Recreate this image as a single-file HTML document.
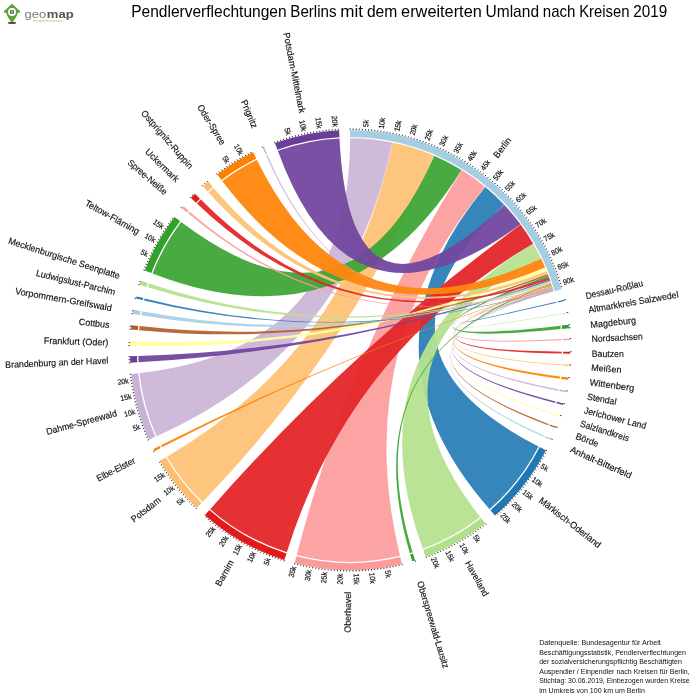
<!DOCTYPE html>
<html lang="de"><head><meta charset="utf-8"><title>Pendlerverflechtungen Berlins</title>
<style>
html,body{margin:0;padding:0;background:#fff;}
body{width:700px;height:700px;overflow:hidden;position:relative;font-family:"Liberation Sans",sans-serif;}
svg{position:absolute;left:0;top:0;display:block}
svg text{font-family:"Liberation Sans",sans-serif;fill:#111}
.tk{stroke:#222;stroke-width:0.95;fill:none}
.tl text{font-size:7.6px;dominant-baseline:central;stroke:#111;stroke-width:0.18px}
.gl text{font-size:9.2px;dominant-baseline:central;stroke:#111;stroke-width:0.15px}
.title{font-size:15.7px;fill:#000}
.foot text{font-size:7.0px;fill:#111}
</style></head><body>
<svg width="700" height="700" viewBox="0 0 700 700">
<rect width="700" height="700" fill="#fff"/>
<g class="logo">
<ellipse cx="12" cy="22.9" rx="4.1" ry="1.1" fill="#4b4f48"/>
<path d="M12,3.7 L20.4,11.5 L19.5,13 L18.1,12.2 Q17.3,16.2 12,22.7 Q6.7,16.2 5.9,12.2 L4.5,13 L3.6,11.5 Z" fill="#5ba22f"/>
<circle cx="12.05" cy="12" r="4" fill="#fff"/>
<rect x="10.1" y="10.1" width="3.8" height="3.7" fill="#4a4a58"/>
<path d="M12,10.1V13.8" stroke="#fff" stroke-width="0.6" fill="none"/><path d="M10.1,11.7H13.9" stroke="#fff" stroke-width="0.4" fill="none"/>
<text x="24.5" y="18.1" style="font-size:11.3px;fill:#777" textLength="21.6" lengthAdjust="spacingAndGlyphs">geo</text>
<text x="46.8" y="18.1" style="font-size:11.3px;font-weight:bold;fill:#555" textLength="26.9" lengthAdjust="spacingAndGlyphs">map</text>
<text x="32.9" y="21.6" style="font-size:2.7px;fill:#9ccf6a" textLength="30" lengthAdjust="spacingAndGlyphs">immobilienmarktdaten</text>
</g>
<text class="title" y="17.4"><tspan x="131.2" textLength="155.38" lengthAdjust="spacingAndGlyphs">Pendlerverflechtungen</tspan> <tspan x="290.35" textLength="46.21" lengthAdjust="spacingAndGlyphs">Berlins</tspan> <tspan x="340.34" textLength="22.78" lengthAdjust="spacingAndGlyphs">mit</tspan> <tspan x="366.9" textLength="30.44" lengthAdjust="spacingAndGlyphs">dem</tspan> <tspan x="401.12" textLength="80.66" lengthAdjust="spacingAndGlyphs">erweiterten</tspan> <tspan x="485.56" textLength="53.47" lengthAdjust="spacingAndGlyphs">Umland</tspan> <tspan x="542.81" textLength="32.63" lengthAdjust="spacingAndGlyphs">nach</tspan> <tspan x="579.21" textLength="50.29" lengthAdjust="spacingAndGlyphs">Kreisen</tspan> <tspan x="633.28" textLength="33.88" lengthAdjust="spacingAndGlyphs">2019</tspan></text>
<g transform="translate(350,350)">
<g class="rib" fill-opacity="0.95">
<path d="M203.33,-59.3A211.8,211.8 0 0 1 203.42,-58.97Q0,0 206.23,-48.24A211.8,211.8 0 0 1 206.47,-47.21Q0,0 203.33,-59.3Z" fill="#2b7fb8"/>
<path d="M203.5,-58.71A211.8,211.8 0 0 1 203.56,-58.49Q0,0 208.71,-36.06A211.8,211.8 0 0 1 208.81,-35.44Q0,0 203.5,-58.71Z" fill="#b6e190"/>
<path d="M198.31,-74.39A211.8,211.8 0 0 1 199.05,-72.39Q0,0 210.41,-24.26A211.8,211.8 0 0 1 210.76,-20.93Q0,0 198.31,-74.39Z" fill="#3ea537"/>
<path d="M202.78,-61.17A211.8,211.8 0 0 1 202.91,-60.73Q0,0 211.52,-10.97A211.8,211.8 0 0 1 211.58,-9.7Q0,0 202.78,-61.17Z" fill="#fb9f9e"/>
<path d="M202.31,-62.7A211.8,211.8 0 0 1 202.48,-62.15Q0,0 211.79,1.63A211.8,211.8 0 0 1 211.77,3.54Q0,0 202.31,-62.7Z" fill="#e42628"/>
<path d="M202.12,-63.31A211.8,211.8 0 0 1 202.31,-62.7Q0,0 211.32,14.29A211.8,211.8 0 0 1 211.24,15.34Q0,0 202.12,-63.31Z" fill="#fdc277"/>
<path d="M201.1,-66.46A211.8,211.8 0 0 1 201.39,-65.59Q0,0 210.14,26.47A211.8,211.8 0 0 1 209.84,28.74Q0,0 201.1,-66.46Z" fill="#ff860d"/>
<path d="M202.48,-62.15A211.8,211.8 0 0 1 202.64,-61.6Q0,0 208.13,39.25A211.8,211.8 0 0 1 207.85,40.71Q0,0 202.48,-62.15Z" fill="#cdb6d8"/>
<path d="M202.91,-60.73A211.8,211.8 0 0 1 203.04,-60.29Q0,0 205.47,51.41A211.8,211.8 0 0 1 205.08,52.94Q0,0 202.91,-60.73Z" fill="#72479f"/>
<path d="M203.04,-60.29A211.8,211.8 0 0 1 203.14,-59.96Q0,0 202.24,62.93A211.8,211.8 0 0 1 201.82,64.24Q0,0 203.04,-60.29Z" fill="#ffff9e"/>
<path d="M203.23,-59.63A211.8,211.8 0 0 1 203.33,-59.3Q0,0 198.47,73.96A211.8,211.8 0 0 1 198.02,75.15Q0,0 203.23,-59.63Z" fill="#b56233"/>
<path d="M203.14,-59.96A211.8,211.8 0 0 1 203.23,-59.63Q0,0 193.78,85.49A211.8,211.8 0 0 1 193.26,86.65Q0,0 203.14,-59.96Z" fill="#abd1e4"/>
<path d="M135.29,-162.96A211.8,211.8 0 0 1 154.15,-145.25Q0,0 188.54,96.51A211.8,211.8 0 0 1 139.55,159.33Q0,0 135.29,-162.96Z" fill="#2b7fb8"/>
<path d="M183.37,-105.99A211.8,211.8 0 0 1 190.9,-91.74Q0,0 130.19,167.06A211.8,211.8 0 0 1 72.86,198.87Q0,0 183.37,-105.99Z" fill="#b6e190"/>
<path d="M201.39,-65.59A211.8,211.8 0 0 1 201.67,-64.72Q0,0 62.58,202.34A211.8,211.8 0 0 1 59.84,203.17Q0,0 201.39,-65.59Z" fill="#3ea537"/>
<path d="M111.73,-179.93A211.8,211.8 0 0 1 135.06,-163.15Q0,0 49.95,205.83A211.8,211.8 0 0 1 -53.28,204.99Q0,0 111.73,-179.93Z" fill="#fb9f9e"/>
<path d="M170.63,-125.48A211.8,211.8 0 0 1 183.22,-106.25Q0,0 -63.16,202.16A211.8,211.8 0 0 1 -139.77,159.13Q0,0 170.63,-125.48Z" fill="#e42628"/>
<path d="M42.56,-207.48A211.8,211.8 0 0 1 83.94,-194.46Q0,0 -147.53,151.96A211.8,211.8 0 0 1 -182.98,106.67Q0,0 42.56,-207.48Z" fill="#fdc277"/>
<path d="M201.91,-63.96A211.8,211.8 0 0 1 202.12,-63.31Q0,0 -188.11,97.33A211.8,211.8 0 0 1 -189.15,95.3Q0,0 201.91,-63.96Z" fill="#ff860d"/>
<path d="M0.15,-211.8A211.8,211.8 0 0 1 42.26,-207.54Q0,0 -193.44,86.25A211.8,211.8 0 0 1 -210.55,23Q0,0 0.15,-211.8Z" fill="#cdb6d8"/>
<path d="M199.74,-70.45A211.8,211.8 0 0 1 200.12,-69.37Q0,0 -211.44,12.3A211.8,211.8 0 0 1 -211.71,6.05Q0,0 199.74,-70.45Z" fill="#72479f"/>
<path d="M195.18,-82.24A211.8,211.8 0 0 1 196.63,-78.72Q0,0 -211.76,-4.13A211.8,211.8 0 0 1 -211.62,-8.75Q0,0 195.18,-82.24Z" fill="#ffff9e"/>
<path d="M197.7,-75.98A211.8,211.8 0 0 1 198.31,-74.39Q0,0 -210.87,-19.84A211.8,211.8 0 0 1 -210.45,-23.91Q0,0 197.7,-75.98Z" fill="#b56233"/>
<path d="M200.12,-69.37A211.8,211.8 0 0 1 200.62,-67.89Q0,0 -208.94,-34.69A211.8,211.8 0 0 1 -208.22,-38.77Q0,0 200.12,-69.37Z" fill="#abd1e4"/>
<path d="M202.64,-61.6A211.8,211.8 0 0 1 202.78,-61.17Q0,0 -205.91,-49.61A211.8,211.8 0 0 1 -205.42,-51.6Q0,0 202.64,-61.6Z" fill="#2b7fb8"/>
<path d="M200.62,-67.89A211.8,211.8 0 0 1 201.1,-66.46Q0,0 -202.31,-62.67A211.8,211.8 0 0 1 -201.05,-66.61Q0,0 200.62,-67.89Z" fill="#b6e190"/>
<path d="M84.21,-194.34A211.8,211.8 0 0 1 111.48,-180.09Q0,0 -197.47,-76.59A211.8,211.8 0 0 1 -168.81,-127.91Q0,0 84.21,-194.34Z" fill="#3ea537"/>
<path d="M201.67,-64.72A211.8,211.8 0 0 1 201.91,-63.96Q0,0 -161.81,-136.66A211.8,211.8 0 0 1 -160.38,-138.33Q0,0 201.67,-64.72Z" fill="#fb9f9e"/>
<path d="M199.05,-72.39A211.8,211.8 0 0 1 199.74,-70.45Q0,0 -153.08,-146.38A211.8,211.8 0 0 1 -149.13,-150.39Q0,0 199.05,-72.39Z" fill="#e42628"/>
<path d="M196.63,-78.72A211.8,211.8 0 0 1 197.7,-75.98Q0,0 -141.48,-157.62A211.8,211.8 0 0 1 -136.35,-162.08Q0,0 196.63,-78.72Z" fill="#fdc277"/>
<path d="M191.03,-91.48A211.8,211.8 0 0 1 195.12,-82.38Q0,0 -127.79,-168.91A211.8,211.8 0 0 1 -93.15,-190.22Q0,0 191.03,-91.48Z" fill="#ff860d"/>
<path d="M203.42,-58.97A211.8,211.8 0 0 1 203.5,-58.71Q0,0 -83.84,-194.5A211.8,211.8 0 0 1 -82.55,-195.05Q0,0 203.42,-58.97Z" fill="#cdb6d8"/>
<path d="M154.35,-145.04A211.8,211.8 0 0 1 170.45,-125.72Q0,0 -72.17,-199.13A211.8,211.8 0 0 1 -10.5,-211.54Q0,0 154.35,-145.04Z" fill="#72479f"/>
</g>
<g class="arcs">
<path d="M0,-220.1A220.1,220.1 0 0 1 211.54,-60.78L204.81,-58.85A213.1,213.1 0 0 0 0,-213.1Z" fill="#a6cee3"/>
<path d="M214.31,-50.13A220.1,220.1 0 0 1 214.56,-49.06L207.74,-47.5A213.1,213.1 0 0 0 207.5,-48.54Z" fill="#1f78b4"/>
<path d="M216.89,-37.47A220.1,220.1 0 0 1 217,-36.82L210.1,-35.65A213.1,213.1 0 0 0 209.99,-36.28Z" fill="#b2df8a"/>
<path d="M218.65,-25.21A220.1,220.1 0 0 1 219.02,-21.75L212.06,-21.06A213.1,213.1 0 0 0 211.7,-24.41Z" fill="#33a02c"/>
<path d="M219.8,-11.4A220.1,220.1 0 0 1 219.87,-10.08L212.88,-9.76A213.1,213.1 0 0 0 212.81,-11.03Z" fill="#fb9a99"/>
<path d="M220.09,1.7A220.1,220.1 0 0 1 220.07,3.68L213.07,3.56A213.1,213.1 0 0 0 213.09,1.64Z" fill="#e31a1c"/>
<path d="M219.6,14.85A220.1,220.1 0 0 1 219.52,15.94L212.54,15.44A213.1,213.1 0 0 0 212.61,14.37Z" fill="#fdbf6f"/>
<path d="M218.37,27.51A220.1,220.1 0 0 1 218.06,29.86L211.13,28.91A213.1,213.1 0 0 0 211.43,26.63Z" fill="#ff7f00"/>
<path d="M216.29,40.79A220.1,220.1 0 0 1 216,42.3L209.13,40.96A213.1,213.1 0 0 0 209.41,39.49Z" fill="#cab2d6"/>
<path d="M213.52,53.42A220.1,220.1 0 0 1 213.11,55.02L206.33,53.27A213.1,213.1 0 0 0 206.73,51.72Z" fill="#6a3d9a"/>
<path d="M210.16,65.39A220.1,220.1 0 0 1 209.73,66.76L203.06,64.63A213.1,213.1 0 0 0 203.48,63.31Z" fill="#ffff99"/>
<path d="M206.25,76.86A220.1,220.1 0 0 1 205.78,78.09L199.24,75.61A213.1,213.1 0 0 0 199.69,74.41Z" fill="#b15928"/>
<path d="M201.37,88.84A220.1,220.1 0 0 1 200.84,90.05L194.45,87.19A213.1,213.1 0 0 0 194.97,86.02Z" fill="#a6cee3"/>
<path d="M195.92,100.29A220.1,220.1 0 0 1 145.01,165.58L140.4,160.31A213.1,213.1 0 0 0 189.69,97.1Z" fill="#1f78b4"/>
<path d="M135.29,173.61A220.1,220.1 0 0 1 75.72,206.67L73.31,200.09A213.1,213.1 0 0 0 130.99,168.09Z" fill="#b2df8a"/>
<path d="M65.03,210.27A220.1,220.1 0 0 1 62.19,211.13L60.21,204.42A213.1,213.1 0 0 0 62.96,203.59Z" fill="#33a02c"/>
<path d="M51.91,213.89A220.1,220.1 0 0 1 -55.37,213.02L-53.61,206.25A213.1,213.1 0 0 0 50.26,207.09Z" fill="#fb9a99"/>
<path d="M-65.63,210.09A220.1,220.1 0 0 1 -145.25,165.37L-140.63,160.11A213.1,213.1 0 0 0 -63.55,203.4Z" fill="#e31a1c"/>
<path d="M-153.32,157.92A220.1,220.1 0 0 1 -190.15,110.85L-184.1,107.32A213.1,213.1 0 0 0 -148.44,152.9Z" fill="#fdbf6f"/>
<path d="M-195.48,101.15A220.1,220.1 0 0 1 -196.56,99.03L-190.31,95.88A213.1,213.1 0 0 0 -189.27,97.93Z" fill="#ff7f00"/>
<path d="M-201.03,89.63A220.1,220.1 0 0 1 -218.8,23.9L-211.84,23.14A213.1,213.1 0 0 0 -194.63,86.77Z" fill="#cab2d6"/>
<path d="M-219.73,12.78A220.1,220.1 0 0 1 -220.01,6.29L-213.01,6.09A213.1,213.1 0 0 0 -212.74,12.37Z" fill="#6a3d9a"/>
<path d="M-220.06,-4.29A220.1,220.1 0 0 1 -219.91,-9.09L-212.92,-8.8A213.1,213.1 0 0 0 -213.06,-4.16Z" fill="#ffff99"/>
<path d="M-219.13,-20.62A220.1,220.1 0 0 1 -218.69,-24.84L-211.74,-24.05A213.1,213.1 0 0 0 -212.16,-19.96Z" fill="#b15928"/>
<path d="M-217.13,-36.05A220.1,220.1 0 0 1 -216.38,-40.29L-209.5,-39.01A213.1,213.1 0 0 0 -210.22,-34.9Z" fill="#a6cee3"/>
<path d="M-213.98,-51.55A220.1,220.1 0 0 1 -213.47,-53.62L-206.68,-51.92A213.1,213.1 0 0 0 -207.17,-49.91Z" fill="#1f78b4"/>
<path d="M-210.24,-65.13A220.1,220.1 0 0 1 -208.93,-69.22L-202.29,-67.02A213.1,213.1 0 0 0 -203.56,-63.06Z" fill="#b2df8a"/>
<path d="M-205.2,-79.59A220.1,220.1 0 0 1 -175.43,-132.92L-169.85,-128.7A213.1,213.1 0 0 0 -198.68,-77.06Z" fill="#33a02c"/>
<path d="M-168.16,-142.01A220.1,220.1 0 0 1 -166.67,-143.75L-161.37,-139.18A213.1,213.1 0 0 0 -162.81,-137.5Z" fill="#fb9a99"/>
<path d="M-159.08,-152.11A220.1,220.1 0 0 1 -154.98,-156.29L-150.05,-151.32A213.1,213.1 0 0 0 -154.02,-147.27Z" fill="#e31a1c"/>
<path d="M-147.02,-163.79A220.1,220.1 0 0 1 -141.69,-168.43L-137.18,-163.07A213.1,213.1 0 0 0 -142.35,-158.59Z" fill="#fdbf6f"/>
<path d="M-132.8,-175.53A220.1,220.1 0 0 1 -96.8,-197.67L-93.72,-191.38A213.1,213.1 0 0 0 -128.57,-169.94Z" fill="#ff7f00"/>
<path d="M-87.12,-202.12A220.1,220.1 0 0 1 -85.79,-202.69L-83.06,-196.25A213.1,213.1 0 0 0 -84.35,-195.69Z" fill="#cab2d6"/>
<path d="M-74.99,-206.93A220.1,220.1 0 0 1 -10.91,-219.83L-10.56,-212.84A213.1,213.1 0 0 0 -72.61,-200.35Z" fill="#6a3d9a"/>
</g>
<path class="tk" d="M0,-220.1L0,-221.5M3.09,-220.08L3.11,-221.48M6.18,-220.01L6.22,-221.41M9.27,-219.9L9.33,-221.3M12.36,-219.75L12.44,-221.15M15.45,-219.56L15.55,-220.95M18.53,-219.32L18.65,-220.71M21.61,-219.04L21.75,-220.43M24.69,-218.71L24.84,-220.1M27.76,-218.34L27.93,-219.73M30.82,-217.93L31.02,-219.32M33.88,-217.48L34.1,-218.86M36.93,-216.98L37.17,-218.36M39.98,-216.44L40.23,-217.82M43.02,-215.86L43.29,-217.23M46.04,-215.23L46.34,-216.6M49.06,-214.56L49.37,-215.93M52.07,-213.85L52.4,-215.21M55.07,-213.1L55.42,-214.45M58.06,-212.3L58.43,-213.65M61.04,-211.47L61.43,-212.81M64,-210.59L64.41,-211.93M66.95,-209.67L67.38,-211M69.89,-208.71L70.34,-210.04M72.82,-207.71L73.28,-209.03M75.73,-206.66L76.21,-207.98M78.63,-205.58L79.13,-206.88M81.51,-204.45L82.03,-205.75M84.37,-203.29L84.91,-204.58M87.22,-202.08L87.77,-203.37M90.05,-200.84L90.62,-202.11M92.86,-199.55L93.45,-200.82M95.66,-198.23L96.27,-199.49M98.43,-196.86L99.06,-198.12M101.19,-195.46L101.83,-196.7M103.92,-194.02L104.59,-195.25M106.64,-192.54L107.32,-193.77M109.33,-191.02L110.03,-192.24M112.01,-189.47L112.72,-190.67M114.66,-187.88L115.39,-189.07M117.29,-186.25L118.03,-187.43M119.89,-184.58L120.65,-185.75M122.47,-182.88L123.25,-184.04M125.03,-181.14L125.83,-182.29M127.56,-179.36L128.37,-180.51M130.07,-177.55L130.9,-178.68M132.55,-175.71L133.4,-176.83M135.01,-173.83L135.87,-174.94M137.44,-171.92L138.31,-173.01M139.84,-169.97L140.73,-171.05M142.21,-167.99L143.12,-169.06M144.56,-165.97L145.48,-167.03M146.88,-163.92L147.81,-164.97M149.16,-161.85L150.11,-162.87M151.42,-159.73L152.39,-160.75M153.65,-157.59L154.63,-158.59M155.85,-155.42L156.84,-156.4M158.02,-153.21L159.03,-154.19M160.16,-150.98L161.18,-151.94M162.26,-148.71L163.29,-149.66M164.34,-146.42L165.38,-147.35M166.38,-144.09L167.44,-145.01M168.38,-141.74L169.46,-142.64M170.36,-139.36L171.44,-140.25M172.3,-136.95L173.4,-137.83M174.21,-134.52L175.32,-135.38M176.08,-132.06L177.2,-132.9M177.92,-129.57L179.05,-130.4M179.72,-127.06L180.86,-127.87M181.49,-124.52L182.64,-125.31M183.22,-121.96L184.39,-122.74M184.92,-119.37L186.09,-120.13M186.57,-116.76L187.76,-117.51M188.2,-114.13L189.39,-114.86M189.78,-111.48L190.99,-112.19M191.33,-108.8L192.55,-109.49M192.84,-106.1L194.07,-106.77M194.31,-103.38L195.55,-104.04M195.74,-100.64L196.99,-101.28M197.14,-97.88L198.39,-98.5M198.49,-95.1L199.76,-95.71M199.81,-92.3L201.08,-92.89M201.09,-89.49L202.37,-90.06M202.33,-86.65L203.61,-87.2M203.52,-83.8L204.82,-84.33M204.68,-80.93L205.98,-81.45M205.8,-78.05L207.11,-78.55M206.87,-75.15L208.19,-75.63M207.91,-72.24L209.23,-72.7M208.9,-69.31L210.23,-69.75M209.86,-66.37L211.19,-66.79M210.77,-63.41L212.11,-63.82M214.31,-50.13L215.68,-50.45M216.89,-37.47L218.27,-37.71M218.65,-25.21L220.04,-25.37M218.98,-22.14L220.38,-22.28M219.8,-11.4L221.2,-11.47M220.09,1.7L221.49,1.71M219.6,14.85L221,14.94M218.37,27.51L219.76,27.68M216.29,40.79L217.66,41.05M213.52,53.42L214.88,53.76M210.16,65.39L211.5,65.81M206.25,76.86L207.56,77.34M201.37,88.84L202.65,89.41M195.92,100.29L197.17,100.93M194.5,103.03L195.73,103.69M193.03,105.75L194.26,106.43M191.52,108.46L192.74,109.15M189.98,111.14L191.19,111.84M188.4,113.79L189.6,114.52M186.78,116.43L187.97,117.17M185.13,119.04L186.31,119.8M183.44,121.63L184.61,122.41M181.71,124.2L182.87,124.99M179.95,126.74L181.09,127.54M178.15,129.25L179.28,130.08M176.32,131.74L177.44,132.58M174.45,134.21L175.56,135.06M172.55,136.65L173.64,137.51M170.61,139.06L171.69,139.94M168.64,141.44L169.71,142.34M166.63,143.79L167.69,144.71M164.6,146.12L165.65,147.05M162.53,148.42L163.56,149.36M160.43,150.69L161.45,151.65M158.29,152.93L159.3,153.9M156.13,155.14L157.12,156.12M153.94,157.31L154.91,158.32M151.71,159.46L152.68,160.48M149.45,161.58L150.41,162.61M147.17,163.66L148.11,164.7M135.29,173.61L136.15,174.71M132.84,175.49L133.69,176.61M130.36,177.34L131.19,178.47M127.86,179.15L128.67,180.29M125.33,180.93L126.13,182.08M122.77,182.68L123.55,183.84M120.19,184.38L120.96,185.56M117.59,186.05L118.34,187.24M114.97,187.69L115.7,188.88M112.32,189.28L113.03,190.49M109.65,190.84L110.35,192.06M106.96,192.37L107.64,193.59M104.24,193.85L104.91,195.08M101.51,195.29L102.15,196.54M98.76,196.7L99.38,197.95M95.98,198.07L96.59,199.33M93.19,199.4L93.78,200.67M90.38,200.69L90.95,201.96M87.55,201.94L88.11,203.22M84.7,203.15L85.24,204.44M81.84,204.32L82.36,205.62M78.96,205.45L79.47,206.75M76.07,206.54L76.55,207.85M65.03,210.27L65.45,211.61M51.91,213.89L52.24,215.25M48.9,214.6L49.21,215.96M45.88,215.26L46.17,216.63M42.85,215.89L43.12,217.26M39.81,216.47L40.07,217.85M36.77,217.01L37,218.39M33.72,217.5L33.93,218.89M30.66,217.95L30.85,219.34M27.59,218.36L27.77,219.75M24.52,218.73L24.68,220.12M21.45,219.05L21.58,220.45M18.37,219.33L18.48,220.73M15.28,219.57L15.38,220.97M12.2,219.76L12.27,221.16M9.11,219.91L9.17,221.31M6.02,220.02L6.06,221.42M2.93,220.08L2.94,221.48M-0.17,220.1L-0.17,221.5M-3.26,220.08L-3.28,221.48M-6.35,220.01L-6.39,221.41M-9.44,219.9L-9.5,221.3M-12.53,219.74L-12.61,221.14M-15.62,219.55L-15.71,220.94M-18.7,219.3L-18.82,220.7M-21.78,219.02L-21.92,220.41M-24.85,218.69L-25.01,220.08M-27.92,218.32L-28.1,219.71M-30.99,217.91L-31.18,219.29M-34.05,217.45L-34.26,218.83M-37.1,216.95L-37.33,218.33M-40.14,216.41L-40.4,217.78M-43.18,215.82L-43.45,217.2M-46.21,215.2L-46.5,216.56M-49.23,214.52L-49.54,215.89M-52.23,213.81L-52.57,215.17M-55.23,213.06L-55.58,214.41M-65.63,210.09L-66.05,211.42M-68.58,209.14L-69.02,210.47M-71.51,208.16L-71.97,209.48M-74.43,207.13L-74.9,208.45M-77.33,206.07L-77.82,207.38M-80.22,204.96L-80.73,206.26M-83.09,203.81L-83.62,205.11M-85.95,202.63L-86.49,203.92M-88.78,201.4L-89.35,202.68M-91.6,200.13L-92.19,201.4M-94.41,198.82L-95.01,200.09M-97.19,197.48L-97.81,198.73M-99.96,196.09L-100.59,197.34M-102.7,194.67L-103.35,195.91M-105.43,193.21L-106.1,194.44M-108.13,191.71L-108.82,192.93M-110.81,190.17L-111.52,191.38M-113.47,188.59L-114.2,189.79M-116.11,186.98L-116.85,188.17M-118.73,185.33L-119.48,186.51M-121.32,183.64L-122.09,184.81M-123.89,181.92L-124.68,183.08M-126.43,180.16L-127.24,181.31M-128.95,178.37L-129.77,179.5M-131.44,176.54L-132.28,177.66M-133.91,174.68L-134.76,175.79M-136.35,172.78L-137.22,173.88M-138.77,170.84L-139.65,171.93M-141.15,168.88L-142.05,169.95M-143.51,166.88L-144.42,167.94M-153.32,157.92L-154.29,158.92M-155.52,155.75L-156.51,156.74M-157.69,153.55L-158.69,154.53M-159.83,151.32L-160.85,152.28M-161.94,149.06L-162.97,150.01M-164.02,146.77L-165.07,147.7M-166.07,144.45L-167.12,145.37M-168.08,142.1L-169.15,143.01M-170.06,139.73L-171.14,140.61M-172.01,137.32L-173.1,138.2M-173.92,134.89L-175.03,135.75M-175.8,132.44L-176.92,133.28M-177.64,129.95L-178.77,130.78M-179.45,127.44L-180.59,128.26M-181.22,124.91L-182.37,125.71M-182.96,122.35L-184.12,123.13M-184.66,119.77L-185.83,120.53M-186.32,117.16L-187.51,117.91M-187.95,114.53L-189.15,115.26M-189.54,111.88L-190.75,112.59M-195.48,101.15L-196.73,101.79M-201.03,89.63L-202.3,90.2M-202.27,86.79L-203.55,87.34M-203.46,83.94L-204.76,84.48M-204.62,81.07L-205.93,81.59M-205.74,78.19L-207.05,78.69M-206.82,75.29L-208.14,75.77M-207.86,72.38L-209.18,72.84M-208.85,69.45L-210.18,69.89M-209.81,66.51L-211.14,66.94M-210.72,63.56L-212.06,63.96M-211.6,60.59L-212.94,60.98M-212.43,57.61L-213.78,57.98M-213.21,54.62L-214.57,54.97M-213.96,51.62L-215.32,51.95M-214.67,48.61L-216.03,48.92M-215.33,45.59L-216.7,45.88M-215.95,42.56L-217.32,42.83M-216.52,39.52L-217.9,39.77M-217.06,36.48L-218.44,36.71M-217.55,33.42L-218.93,33.63M-218,30.36L-219.38,30.56M-218.4,27.3L-219.79,27.47M-218.76,24.23L-220.15,24.38M-219.73,12.78L-221.13,12.86M-219.89,9.69L-221.29,9.75M-220,6.6L-221.4,6.64M-220.06,-4.29L-221.46,-4.32M-219.98,-7.39L-221.38,-7.43M-219.13,-20.62L-220.53,-20.75M-218.82,-23.69L-220.21,-23.84M-217.13,-36.05L-218.51,-36.28M-216.6,-39.09L-217.98,-39.34M-213.98,-51.55L-215.34,-51.88M-210.24,-65.13L-211.58,-65.54M-209.31,-68.08L-210.64,-68.51M-205.2,-79.59L-206.51,-80.1M-204.07,-82.47L-205.36,-82.99M-202.89,-85.33L-204.18,-85.87M-201.67,-88.17L-202.95,-88.73M-200.41,-90.99L-201.68,-91.57M-199.11,-93.8L-200.38,-94.4M-197.77,-96.59L-199.03,-97.2M-196.4,-99.36L-197.65,-99.99M-194.98,-102.11L-196.22,-102.76M-193.53,-104.84L-194.76,-105.5M-192.04,-107.55L-193.26,-108.23M-190.51,-110.23L-191.72,-110.93M-188.94,-112.9L-190.14,-113.62M-187.33,-115.54L-188.53,-116.28M-185.69,-118.16L-186.87,-118.91M-184.01,-120.76L-185.18,-121.53M-182.3,-123.33L-183.46,-124.12M-180.55,-125.88L-181.7,-126.68M-178.76,-128.41L-179.9,-129.22M-176.94,-130.91L-178.07,-131.74M-168.16,-142.01L-169.23,-142.92M-159.08,-152.11L-160.09,-153.08M-156.93,-154.33L-157.92,-155.31M-147.02,-163.79L-147.96,-164.84M-144.71,-165.84L-145.63,-166.9M-142.36,-167.86L-143.27,-168.93M-132.8,-175.53L-133.64,-176.64M-130.32,-177.37L-131.15,-178.5M-127.81,-179.19L-128.62,-180.33M-125.28,-180.97L-126.08,-182.12M-122.73,-182.71L-123.51,-183.87M-120.15,-184.41L-120.91,-185.59M-117.54,-186.08L-118.29,-187.27M-114.92,-187.72L-115.65,-188.91M-112.27,-189.31L-112.98,-190.52M-109.6,-190.87L-110.3,-192.09M-106.91,-192.39L-107.59,-193.62M-104.19,-193.88L-104.86,-195.11M-101.46,-195.32L-102.1,-196.56M-98.7,-196.73L-99.33,-197.98M-87.12,-202.12L-87.68,-203.41M-74.99,-206.93L-75.47,-208.25M-72.08,-207.96L-72.54,-209.29M-69.15,-208.96L-69.59,-210.28M-66.21,-209.91L-66.63,-211.24M-63.25,-210.82L-63.65,-212.16M-60.28,-211.68L-60.67,-213.03M-57.3,-212.51L-57.67,-213.86M-54.31,-213.29L-54.66,-214.65M-51.31,-214.04L-51.64,-215.4M-48.3,-214.74L-48.6,-216.1M-45.28,-215.39L-45.56,-216.76M-42.25,-216.01L-42.51,-217.38M-39.21,-216.58L-39.46,-217.96M-36.16,-217.11L-36.39,-218.49M-33.11,-217.6L-33.32,-218.98M-30.05,-218.04L-30.24,-219.43M-26.98,-218.44L-27.15,-219.83M-23.91,-218.8L-24.06,-220.19M-20.83,-219.11L-20.96,-220.51M-17.75,-219.38L-17.86,-220.78M-14.67,-219.61L-14.76,-221.01M-11.58,-219.8L-11.65,-221.19"/>
<g class="tl">
<text transform="rotate(-85.97)translate(223.6)" textLength="7.27" lengthAdjust="spacingAndGlyphs">5k</text>
<text transform="rotate(-81.95)translate(223.6)" textLength="11.1" lengthAdjust="spacingAndGlyphs">10k</text>
<text transform="rotate(-77.92)translate(223.6)" textLength="11.1" lengthAdjust="spacingAndGlyphs">15k</text>
<text transform="rotate(-73.9)translate(223.6)" textLength="11.1" lengthAdjust="spacingAndGlyphs">20k</text>
<text transform="rotate(-69.87)translate(223.6)" textLength="11.1" lengthAdjust="spacingAndGlyphs">25k</text>
<text transform="rotate(-65.85)translate(223.6)" textLength="11.1" lengthAdjust="spacingAndGlyphs">30k</text>
<text transform="rotate(-61.82)translate(223.6)" textLength="11.1" lengthAdjust="spacingAndGlyphs">35k</text>
<text transform="rotate(-57.8)translate(223.6)" textLength="11.1" lengthAdjust="spacingAndGlyphs">40k</text>
<text transform="rotate(-53.77)translate(223.6)" textLength="11.1" lengthAdjust="spacingAndGlyphs">45k</text>
<text transform="rotate(-49.75)translate(223.6)" textLength="11.1" lengthAdjust="spacingAndGlyphs">50k</text>
<text transform="rotate(-45.72)translate(223.6)" textLength="11.1" lengthAdjust="spacingAndGlyphs">55k</text>
<text transform="rotate(-41.7)translate(223.6)" textLength="11.1" lengthAdjust="spacingAndGlyphs">60k</text>
<text transform="rotate(-37.67)translate(223.6)" textLength="11.1" lengthAdjust="spacingAndGlyphs">65k</text>
<text transform="rotate(-33.65)translate(223.6)" textLength="11.1" lengthAdjust="spacingAndGlyphs">70k</text>
<text transform="rotate(-29.62)translate(223.6)" textLength="11.1" lengthAdjust="spacingAndGlyphs">75k</text>
<text transform="rotate(-25.6)translate(223.6)" textLength="11.1" lengthAdjust="spacingAndGlyphs">80k</text>
<text transform="rotate(-21.57)translate(223.6)" textLength="11.1" lengthAdjust="spacingAndGlyphs">85k</text>
<text transform="rotate(-17.55)translate(223.6)" textLength="11.1" lengthAdjust="spacingAndGlyphs">90k</text>
<text transform="rotate(31.13)translate(223.6)" textLength="7.27" lengthAdjust="spacingAndGlyphs">5k</text>
<text transform="rotate(35.16)translate(223.6)" textLength="11.1" lengthAdjust="spacingAndGlyphs">10k</text>
<text transform="rotate(39.18)translate(223.6)" textLength="11.1" lengthAdjust="spacingAndGlyphs">15k</text>
<text transform="rotate(43.21)translate(223.6)" textLength="11.1" lengthAdjust="spacingAndGlyphs">20k</text>
<text transform="rotate(47.23)translate(223.6)" textLength="11.1" lengthAdjust="spacingAndGlyphs">25k</text>
<text transform="rotate(56.1)translate(223.6)" textLength="7.27" lengthAdjust="spacingAndGlyphs">5k</text>
<text transform="rotate(60.12)translate(223.6)" textLength="11.1" lengthAdjust="spacingAndGlyphs">10k</text>
<text transform="rotate(64.15)translate(223.6)" textLength="11.1" lengthAdjust="spacingAndGlyphs">15k</text>
<text transform="rotate(68.17)translate(223.6)" textLength="11.1" lengthAdjust="spacingAndGlyphs">20k</text>
<text transform="rotate(80.38)translate(223.6)" textLength="7.27" lengthAdjust="spacingAndGlyphs">5k</text>
<text transform="rotate(84.41)translate(223.6)" textLength="11.1" lengthAdjust="spacingAndGlyphs">10k</text>
<text transform="rotate(88.43)translate(223.6)" textLength="11.1" lengthAdjust="spacingAndGlyphs">15k</text>
<text transform="rotate(92.46)translate(223.6)rotate(180)" text-anchor="end" textLength="11.1" lengthAdjust="spacingAndGlyphs">20k</text>
<text transform="rotate(96.48)translate(223.6)rotate(180)" text-anchor="end" textLength="11.1" lengthAdjust="spacingAndGlyphs">25k</text>
<text transform="rotate(100.51)translate(223.6)rotate(180)" text-anchor="end" textLength="11.1" lengthAdjust="spacingAndGlyphs">30k</text>
<text transform="rotate(104.53)translate(223.6)rotate(180)" text-anchor="end" textLength="11.1" lengthAdjust="spacingAndGlyphs">35k</text>
<text transform="rotate(111.37)translate(223.6)rotate(180)" text-anchor="end" textLength="7.27" lengthAdjust="spacingAndGlyphs">5k</text>
<text transform="rotate(115.4)translate(223.6)rotate(180)" text-anchor="end" textLength="11.1" lengthAdjust="spacingAndGlyphs">10k</text>
<text transform="rotate(119.42)translate(223.6)rotate(180)" text-anchor="end" textLength="11.1" lengthAdjust="spacingAndGlyphs">15k</text>
<text transform="rotate(123.45)translate(223.6)rotate(180)" text-anchor="end" textLength="11.1" lengthAdjust="spacingAndGlyphs">20k</text>
<text transform="rotate(127.47)translate(223.6)rotate(180)" text-anchor="end" textLength="11.1" lengthAdjust="spacingAndGlyphs">25k</text>
<text transform="rotate(138.18)translate(223.6)rotate(180)" text-anchor="end" textLength="7.27" lengthAdjust="spacingAndGlyphs">5k</text>
<text transform="rotate(142.2)translate(223.6)rotate(180)" text-anchor="end" textLength="11.1" lengthAdjust="spacingAndGlyphs">10k</text>
<text transform="rotate(146.23)translate(223.6)rotate(180)" text-anchor="end" textLength="11.1" lengthAdjust="spacingAndGlyphs">15k</text>
<text transform="rotate(160)translate(223.6)rotate(180)" text-anchor="end" textLength="7.27" lengthAdjust="spacingAndGlyphs">5k</text>
<text transform="rotate(164.02)translate(223.6)rotate(180)" text-anchor="end" textLength="11.1" lengthAdjust="spacingAndGlyphs">10k</text>
<text transform="rotate(168.05)translate(223.6)rotate(180)" text-anchor="end" textLength="11.1" lengthAdjust="spacingAndGlyphs">15k</text>
<text transform="rotate(172.07)translate(223.6)rotate(180)" text-anchor="end" textLength="11.1" lengthAdjust="spacingAndGlyphs">20k</text>
<text transform="rotate(205.23)translate(223.6)rotate(180)" text-anchor="end" textLength="7.27" lengthAdjust="spacingAndGlyphs">5k</text>
<text transform="rotate(209.25)translate(223.6)rotate(180)" text-anchor="end" textLength="11.1" lengthAdjust="spacingAndGlyphs">10k</text>
<text transform="rotate(213.28)translate(223.6)rotate(180)" text-anchor="end" textLength="11.1" lengthAdjust="spacingAndGlyphs">15k</text>
<text transform="rotate(236.92)translate(223.6)rotate(180)" text-anchor="end" textLength="7.27" lengthAdjust="spacingAndGlyphs">5k</text>
<text transform="rotate(240.94)translate(223.6)rotate(180)" text-anchor="end" textLength="11.1" lengthAdjust="spacingAndGlyphs">10k</text>
<text transform="rotate(254.1)translate(223.6)rotate(180)" text-anchor="end" textLength="7.27" lengthAdjust="spacingAndGlyphs">5k</text>
<text transform="rotate(258.13)translate(223.6)rotate(180)" text-anchor="end" textLength="11.1" lengthAdjust="spacingAndGlyphs">10k</text>
<text transform="rotate(262.15)translate(223.6)rotate(180)" text-anchor="end" textLength="11.1" lengthAdjust="spacingAndGlyphs">15k</text>
<text transform="rotate(266.18)translate(223.6)rotate(180)" text-anchor="end" textLength="11.1" lengthAdjust="spacingAndGlyphs">20k</text>
</g>
<g class="gl">
<text transform="rotate(-53.02)translate(241.8)" textLength="23.03" lengthAdjust="spacingAndGlyphs">Berlin</text>
<text transform="rotate(-13.02)translate(241.8)" dy="0.8" textLength="58.56" lengthAdjust="spacingAndGlyphs">Dessau-Roßlau</text>
<text transform="rotate(-9.72)translate(241.8)" dy="0.8" textLength="91.17" lengthAdjust="spacingAndGlyphs">Altmarkkreis Salzwedel</text>
<text transform="rotate(-6.12)translate(241.8)" dy="0.8" textLength="45.57" lengthAdjust="spacingAndGlyphs">Magdeburg</text>
<text transform="rotate(-2.8)translate(241.8)" dy="0.8" textLength="51.21" lengthAdjust="spacingAndGlyphs">Nordsachsen</text>
<text transform="rotate(0.7)translate(241.8)" dy="0.8" textLength="32.02" lengthAdjust="spacingAndGlyphs">Bautzen</text>
<text transform="rotate(4.01)translate(241.8)" dy="0.8" textLength="30.38" lengthAdjust="spacingAndGlyphs">Meißen</text>
<text transform="rotate(7.49)translate(241.8)" dy="0.8" textLength="45.15" lengthAdjust="spacingAndGlyphs">Wittenberg</text>
<text transform="rotate(10.88)translate(241.8)" dy="0.8" textLength="29.6" lengthAdjust="spacingAndGlyphs">Stendal</text>
<text transform="rotate(14.26)translate(241.8)" dy="0.8" textLength="64.09" lengthAdjust="spacingAndGlyphs">Jerichower Land</text>
<text transform="rotate(17.47)translate(241.8)" dy="0.8" textLength="50.86" lengthAdjust="spacingAndGlyphs">Salzlandkreis</text>
<text transform="rotate(20.61)translate(241.8)" dy="0.8" textLength="23.7" lengthAdjust="spacingAndGlyphs">Börde</text>
<text transform="rotate(23.98)translate(241.8)" dy="0.8" textLength="66.21" lengthAdjust="spacingAndGlyphs">Anhalt-Bitterfeld</text>
<text transform="rotate(37.95)translate(241.8)" dy="0.8" textLength="75.71" lengthAdjust="spacingAndGlyphs">Märkisch-Oderland</text>
<text transform="rotate(60.97)translate(241.8)" textLength="39.19" lengthAdjust="spacingAndGlyphs">Havelland</text>
<text transform="rotate(73.2)translate(241.8)" textLength="90.44" lengthAdjust="spacingAndGlyphs">Oberspreewald-Lausitz</text>
<text transform="rotate(90.46)translate(241.8)rotate(180)" text-anchor="end" textLength="40.9" lengthAdjust="spacingAndGlyphs">Oberhavel</text>
<text transform="rotate(119.32)translate(241.8)rotate(180)" text-anchor="end" textLength="28.38" lengthAdjust="spacingAndGlyphs">Barnim</text>
<text transform="rotate(141.96)translate(241.8)rotate(180)" text-anchor="end" textLength="34.66" lengthAdjust="spacingAndGlyphs">Potsdam</text>
<text transform="rotate(152.95)translate(241.8)rotate(180)" text-anchor="end" textLength="42.07" lengthAdjust="spacingAndGlyphs">Elbe-Elster</text>
<text transform="rotate(164.87)translate(241.8)rotate(180)" text-anchor="end" textLength="72.75" lengthAdjust="spacingAndGlyphs">Dahme-Spreewald</text>
<text transform="rotate(177.52)translate(241.8)rotate(180)" text-anchor="end" textLength="103.31" lengthAdjust="spacingAndGlyphs">Brandenburg an der Havel</text>
<text transform="rotate(181.74)translate(241.8)rotate(180)" text-anchor="end" textLength="64.48" lengthAdjust="spacingAndGlyphs">Frankfurt (Oder)</text>
<text transform="rotate(185.93)translate(241.8)rotate(180)" text-anchor="end" textLength="30.77" lengthAdjust="spacingAndGlyphs">Cottbus</text>
<text transform="rotate(189.99)translate(241.8)rotate(180)" text-anchor="end" textLength="98.19" lengthAdjust="spacingAndGlyphs">Vorpommern-Greifswald</text>
<text transform="rotate(193.82)translate(241.8)rotate(180)" text-anchor="end" textLength="81.34" lengthAdjust="spacingAndGlyphs">Ludwigslust-Parchim</text>
<text transform="rotate(197.77)translate(241.8)rotate(180)" text-anchor="end" textLength="116.66" lengthAdjust="spacingAndGlyphs">Mecklenburgische Seenplatte</text>
<text transform="rotate(209.18)translate(241.8)rotate(180)" text-anchor="end" textLength="61.01" lengthAdjust="spacingAndGlyphs">Teltow-Fläming</text>
<text transform="rotate(220.48)translate(241.8)rotate(180)" text-anchor="end" textLength="48.81" lengthAdjust="spacingAndGlyphs">Spree-Neiße</text>
<text transform="rotate(224.48)translate(241.8)rotate(180)" text-anchor="end" textLength="43.13" lengthAdjust="spacingAndGlyphs">Uckermark</text>
<text transform="rotate(229.01)translate(241.8)rotate(180)" text-anchor="end" textLength="73.99" lengthAdjust="spacingAndGlyphs">Ostprignitz-Ruppin</text>
<text transform="rotate(238.4)translate(241.8)rotate(180)" text-anchor="end" textLength="45.28" lengthAdjust="spacingAndGlyphs">Oder-Spree</text>
<text transform="rotate(246.87)translate(241.8)rotate(180)" text-anchor="end" textLength="29.59" lengthAdjust="spacingAndGlyphs">Prignitz</text>
<text transform="rotate(258.62)translate(241.8)rotate(180)" text-anchor="end" textLength="81.89" lengthAdjust="spacingAndGlyphs">Potsdam-Mittelmark</text>
</g>
</g>
<g class="foot">
<text x="539.2" y="645" textLength="121.56" lengthAdjust="spacingAndGlyphs">Datenquelle: Bundesagentur für Arbeit</text>
<text x="539.2" y="654.52" textLength="146.81" lengthAdjust="spacingAndGlyphs">Beschäftigungsstatistik, Pendlerverflechtungen</text>
<text x="539.2" y="664.04" textLength="142.69" lengthAdjust="spacingAndGlyphs">der sozialversicherungspflichtig Beschäftigten</text>
<text x="539.2" y="673.56" textLength="150.5" lengthAdjust="spacingAndGlyphs">Auspendler / Einpendler nach Kreisen für Berlin,</text>
<text x="539.2" y="683.08" textLength="150.47" lengthAdjust="spacingAndGlyphs">Stichtag: 30.06.2019, Einbezogen wurden Kreise</text>
<text x="539.2" y="692.6" textLength="105.67" lengthAdjust="spacingAndGlyphs">im Umkreis von 100 km um Berlin</text>
</g>
</svg>
</body></html>
